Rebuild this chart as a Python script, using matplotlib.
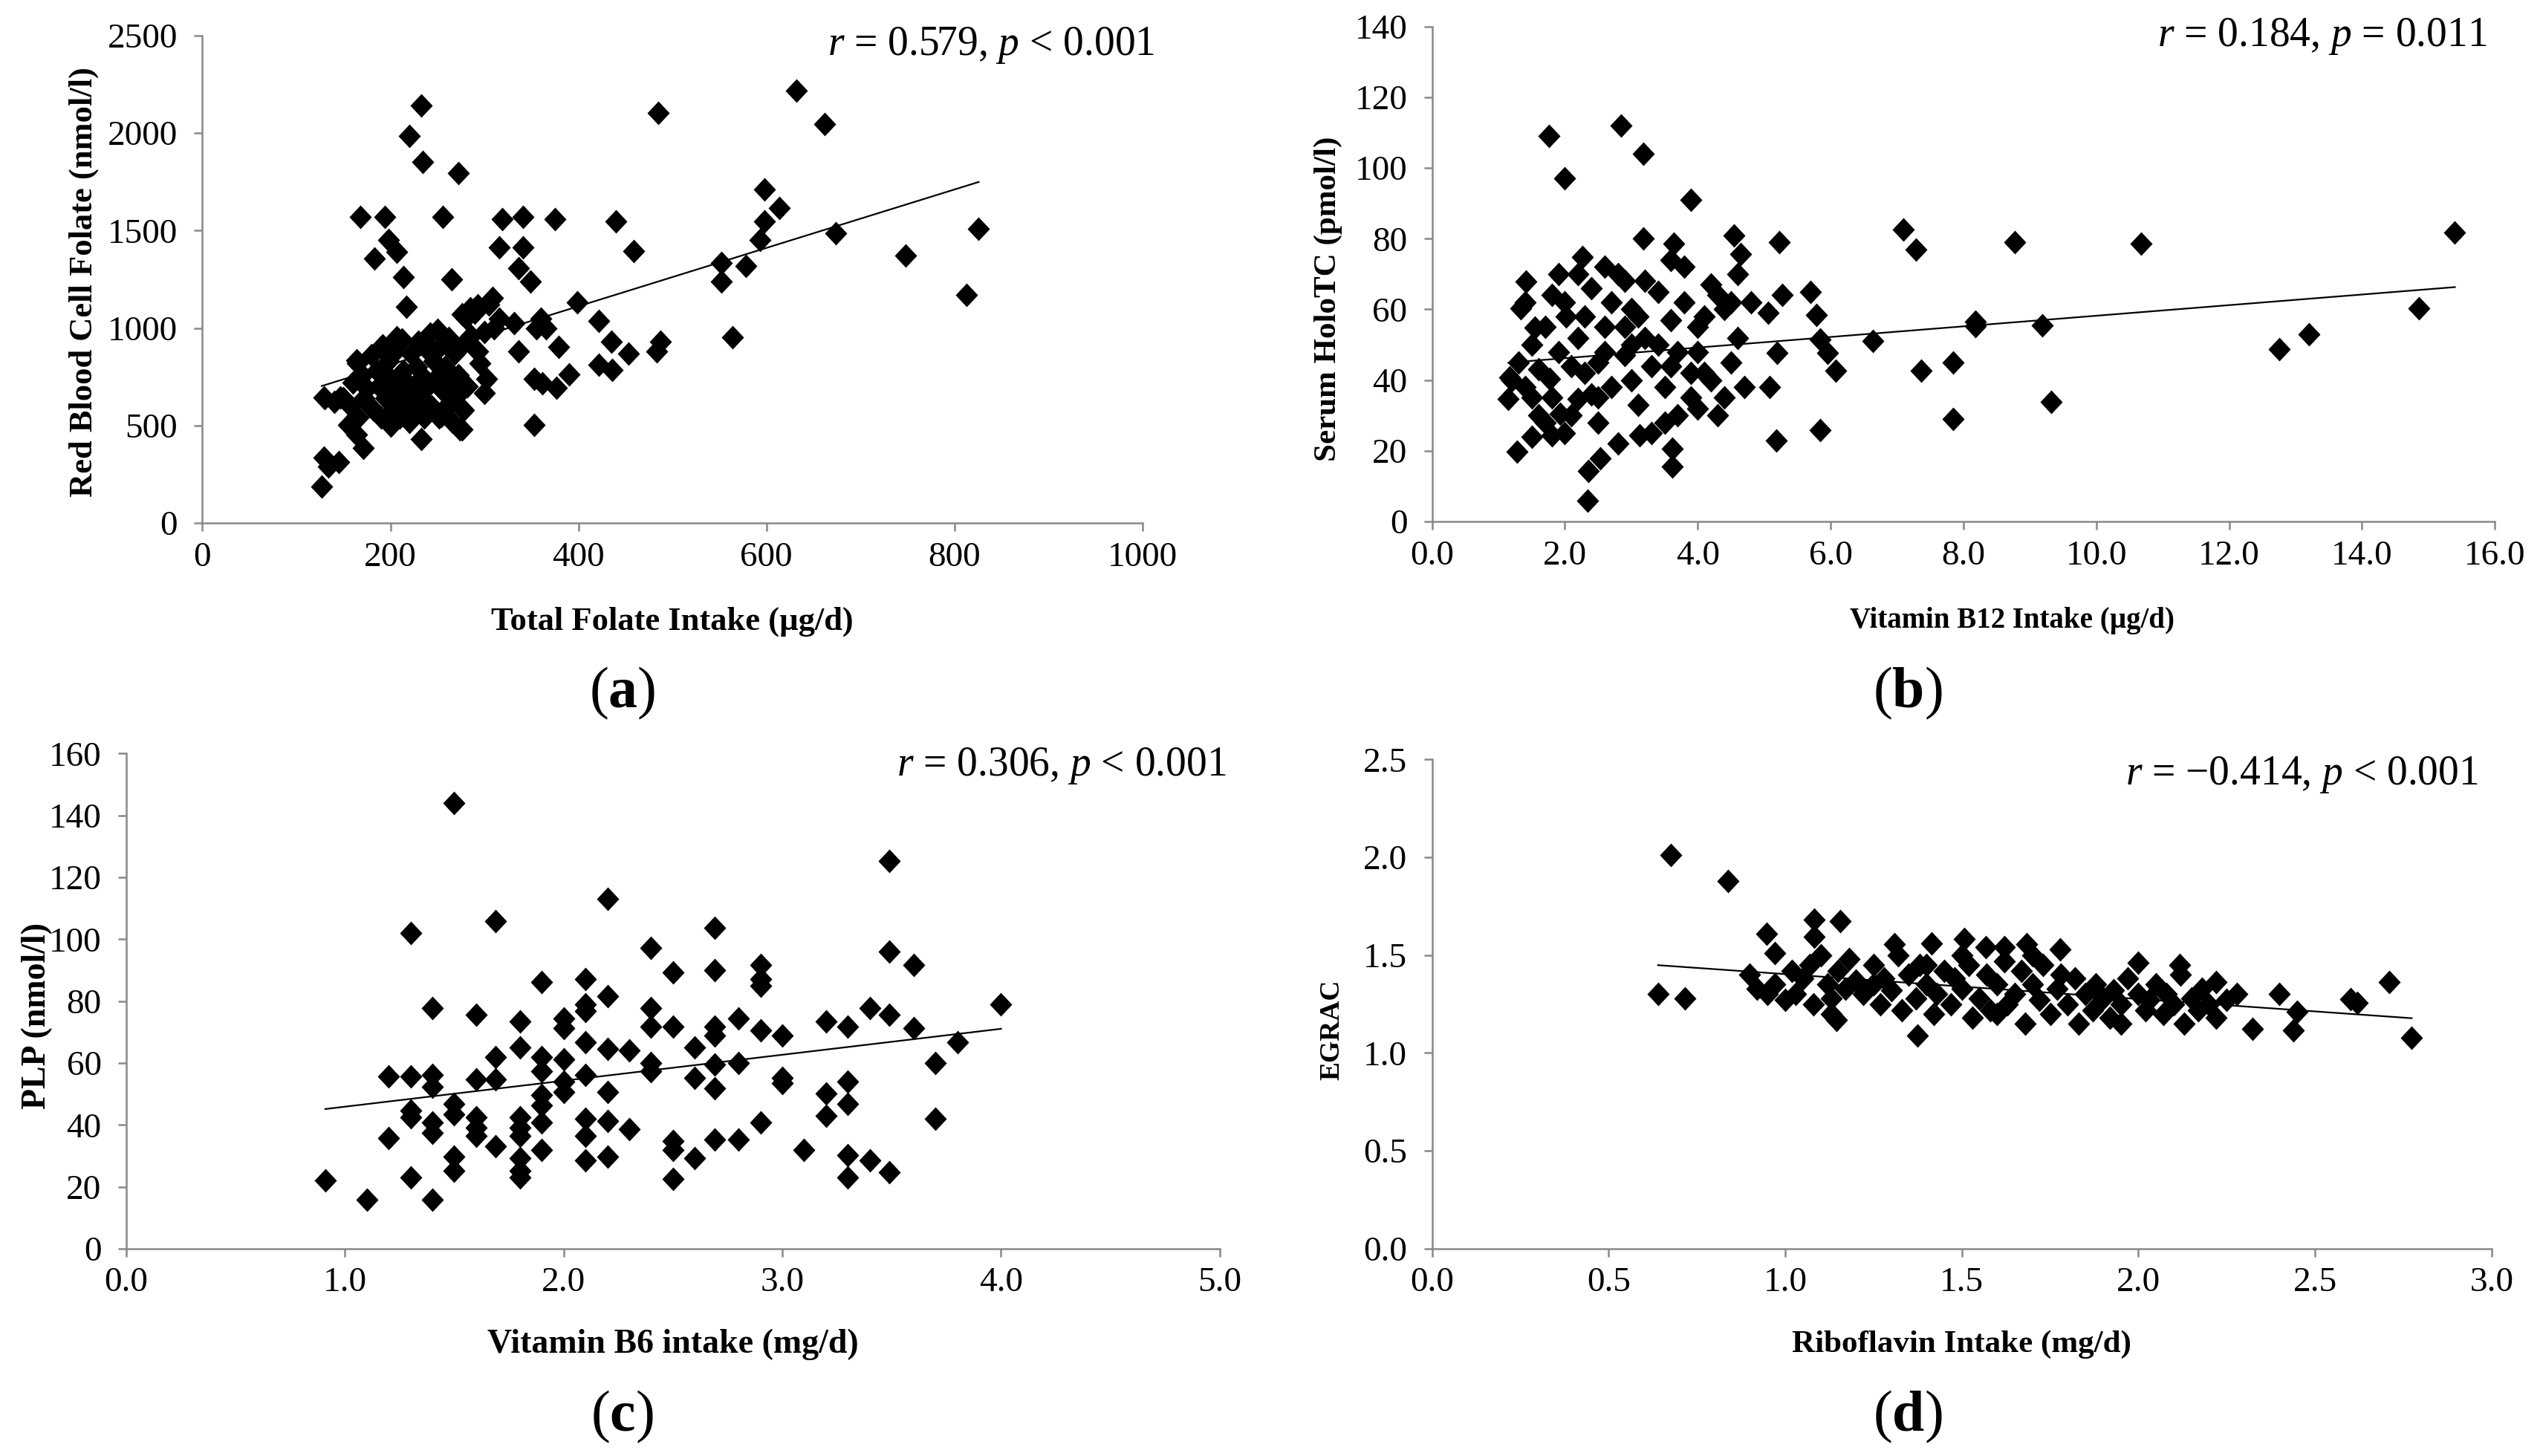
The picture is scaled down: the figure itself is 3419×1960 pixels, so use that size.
import numpy as np
import matplotlib
matplotlib.use("Agg")
import matplotlib.pyplot as plt
from matplotlib.path import Path

plt.rcParams['font.family'] = ['Liberation Serif', 'DejaVu Serif']
plt.rcParams['mathtext.fontset'] = 'custom'
plt.rcParams['mathtext.rm'] = 'Liberation Serif'
plt.rcParams['mathtext.it'] = 'Liberation Serif:italic'
plt.rcParams['mathtext.bf'] = 'Liberation Serif:bold'

# ---------------- Panel (a) data ----------------
folate_x = [233, 220, 234, 272, 485, 632, 662, 598, 614, 598, 593, 674, 826, 748, 813, 552, 552, 578, 564,
            440, 459, 399, 422, 435, 453, 422, 436, 483, 487, 390, 375, 341, 319, 316, 341, 336, 349, 309,
            316, 379, 377, 353, 353, 362, 336, 355, 360, 366, 332, 302, 300, 293, 276, 285, 293, 256, 265,
            168, 194, 198, 207, 183, 214, 217, 207, 190, 164, 129, 147, 155, 164, 171, 145, 129, 134, 127,
            233, 276, 254,
            160, 165, 170, 175, 178, 180, 185, 188, 190, 192, 195, 198, 200, 200, 203, 205, 207, 210, 212,
            214, 216, 218, 220, 222, 224, 226, 228, 230, 232, 234, 236, 238, 240, 242, 244, 246, 248, 250,
            252, 254, 256, 258, 260, 262, 264, 266, 268, 270, 272, 274, 276, 278, 280, 282, 286, 290, 295,
            300, 305, 310, 172, 158, 166, 182, 196, 212, 228, 244, 260, 150, 140, 130]
rbc_folate = [2142, 1983, 1853, 1794, 2102, 2216, 2047, 1711, 1616, 1545, 1450, 1486, 1509, 1372, 1171, 1332,
              1237, 1320, 953, 1545, 1396, 1130, 1036, 929, 870, 810, 787, 880, 929, 763, 1557, 1569, 1557,
              1415, 1415, 1308, 1237, 1154, 1047, 905, 692, 502, 739, 716, 882, 1000, 1047, 1000, 1024, 739,
              668, 882, 1071, 1100, 1118, 1569, 1249, 1569, 1569, 1450, 1391, 1355, 1260, 1107, 953, 905,
              834, 645, 645, 502, 455, 384, 313, 336, 289, 187, 431, 479, 550,
              720, 820, 760, 690, 600, 860, 780, 700, 540, 910, 640, 830, 500, 740, 580, 880, 680, 540, 940,
              780, 620, 720, 520, 870, 690, 580, 800, 930, 650, 750, 540, 890, 700, 970, 600, 830, 740, 990,
              540, 910, 680, 800, 600, 950, 720, 520, 870, 650, 760, 480, 910, 580, 1050, 700, 960, 1080, 820,
              980, 1120, 1000, 640, 600, 540, 580, 760, 700, 600, 880, 760, 640, 620, 640]

# ---------------- Panel (b) data ----------------
b12_x = [1.76, 2.84, 3.18, 2.0, 3.9, 7.09, 7.28, 8.77, 10.68, 15.4, 14.86, 13.2, 12.75, 9.19, 8.18, 8.18,
         6.64, 7.36, 7.85, 7.85, 9.32, 6.08, 5.84, 5.18, 5.08, 5.79, 5.7, 5.23, 5.27, 5.06, 5.19, 5.84, 5.95,
         4.54, 4.65, 3.64, 3.6, 3.18, 2.26, 1.41, 1.8, 1.33, 1.55, 2.02, 1.17, 1.15, 1.28, 1.5, 1.8, 2.35,
         2.34, 2.53, 3.62, 3.62, 3.13, 2.2, 1.93, 1.77,
         1.2, 1.3, 1.4, 1.5, 1.6, 1.7, 1.8, 1.9, 2.0, 2.1, 2.2, 2.3, 2.4, 2.5, 2.6, 2.7, 2.8, 2.9, 3.0, 3.1,
         3.2, 3.3, 3.4, 3.5, 3.6, 3.7, 3.8, 3.9, 4.0, 4.1, 4.2, 4.3, 4.4, 4.5, 4.6, 4.7, 4.8, 2.0, 2.5, 3.0,
         3.5, 4.0, 4.5, 2.2, 2.7, 3.2, 2.8, 3.3, 1.6, 1.4, 1.9, 2.4, 2.9, 3.4, 3.9, 4.4, 2.6, 3.1, 3.6, 4.1,
         4.3, 2.3, 2.1, 1.7, 2.6, 3.7, 4.2, 4.6, 3.8, 2.9, 2.5, 3.0, 4.0, 1.5]
holotc = [109, 112, 104, 97, 91, 82.5, 77, 79, 78.5, 81.8, 60.4, 52.9, 48.7, 55.4, 56.6, 55.2, 51, 42.6, 45,
          29.1, 33.8, 42.6, 25.8, 23, 38, 58.5, 65, 79, 64, 59, 47.8, 51.5, 47.8, 80.9, 75.7, 78.5, 73.9, 80,
          74.8, 67.8, 64, 60.4, 54.8, 58, 40.8, 34.7, 19.8, 24, 24.4, 14.2, 5.8, 17.9, 15.6, 20.7, 24.4,
          34.7, 30.5, 40.3,
          40, 45, 38, 50, 43, 55, 35, 48, 62, 30, 52, 42, 66, 28, 55, 38, 70, 47, 60, 33, 52, 44, 65, 38, 57,
          48, 62, 35, 55, 42, 67, 30, 60, 45, 52, 38, 62, 25, 45, 40, 28, 32, 62, 70, 62, 68, 22, 25, 30, 62,
          70, 36, 55, 50, 42, 35, 48, 58, 44, 58, 64, 58, 44, 28, 72, 30, 40, 70, 72, 68, 35, 50, 48, 35]

# ---------------- Panel (c) data ----------------
b6_x = [1.5, 3.49, 2.2, 1.69, 1.3, 2.69, 2.4, 3.49, 3.6, 2.5, 2.69, 2.9, 2.9, 2.9, 1.9, 2.1, 2.2, 2.1, 2.1,
        4.0, 1.4, 1.6, 2.4, 2.4, 1.8, 2.0, 2.0, 3.4, 3.49, 3.2, 3.3, 2.8, 2.5, 2.69, 2.69, 2.9, 3.0, 3.6, 3.8,
        2.6, 2.3, 2.2, 2.1, 1.8, 1.69, 1.9, 2.0, 2.4, 2.8, 2.69, 3.7, 1.2, 1.3, 1.4, 1.4, 1.6, 1.69, 1.9, 2.0,
        2.1, 2.2, 2.6, 2.69, 2.4, 3.0, 3.0, 3.3, 3.2, 1.9, 1.9, 2.0, 1.3, 1.3, 1.5, 1.5, 1.6, 3.3, 3.2, 3.7,
        1.4, 1.4, 1.6, 1.8, 1.8, 1.9, 2.1, 2.2, 2.3, 2.9, 1.2, 1.6, 1.69, 1.8, 1.9, 2.1, 2.5, 2.5, 2.69, 2.8,
        3.1, 1.8, 1.5, 1.5, 2.1, 2.2, 2.6, 3.3, 3.4, 1.8, 1.8, 1.3, 2.5, 3.3, 3.49, 0.91, 1.1, 1.4]
plp = [144, 125.3, 113, 105.9, 101.9, 103.8, 97.1, 96, 91.6, 89.4, 90, 91.6, 87.2, 85, 86.1, 87.2, 81.7,
       78.9, 76.7, 78.9, 77.8, 75.6, 77.8, 71.7, 73.4, 74.5, 71.2, 77.8, 75.6, 73.4, 71.7, 74.5, 71.7, 71.7,
       69, 70.6, 69, 71.2, 66.7, 65.1, 64, 64.5, 66.7, 65, 61.8, 61.8, 61.2, 60, 60, 59.6, 60, 55.7, 55.7,
       56.2, 52.4, 54.6, 54.6, 57.3, 54, 56.2, 50.7, 55.1, 51.8, 57.3, 55.1, 53.5, 54, 50.2, 49.6, 46.3, 50.7,
       44.6, 42.4, 46.9, 43.5, 42.4, 46.9, 43, 41.9, 40.8, 37.5, 39.1, 42.4, 39.1, 40.8, 41.9, 41.3, 38.6,
       40.8, 35.8, 36.4, 33, 36.4, 31.9, 36.4, 34.7, 31.9, 35.3, 35.3, 31.9, 29.2, 29.7, 25.3, 28.6, 29.7,
       29.2, 30.3, 28.6, 25.3, 23.1, 23.1, 22.5, 23.1, 24.8, 22, 15.9, 15.9]

# ---------------- Panel (d) data ----------------
ribo_x = [0.676, 0.837, 0.64, 0.715, 0.947, 0.97, 1.083, 1.083, 1.155, 1.31, 1.415, 1.507, 1.568, 1.62, 1.684,
          1.778, 2.0, 2.118, 2.22, 2.4, 2.324, 2.44, 2.45, 2.6, 2.62, 2.71, 2.774, 1.375, 1.145,
          0.90, 0.92, 0.95, 0.97, 1.00, 1.02, 1.03, 1.05, 1.07, 1.08, 1.10, 1.12, 1.13, 1.15, 1.17, 1.18,
          1.20, 1.22, 1.25, 1.27, 1.28, 1.30, 1.32, 1.33, 1.35, 1.37, 1.38, 1.40, 1.42, 1.43, 1.45, 1.47,
          1.48, 1.50, 1.52, 1.53, 1.55, 1.57, 1.58, 1.60, 1.62, 1.63, 1.65, 1.67, 1.68, 1.70, 1.72, 1.73,
          1.75, 1.77, 1.78, 1.80, 1.82, 1.83, 1.85, 1.87, 1.88, 1.90, 1.92, 1.93, 1.95, 1.97, 2.00, 2.02,
          2.03, 2.05, 2.07, 2.08, 2.10, 2.12, 2.13, 2.15, 2.17, 2.18, 2.20, 2.22, 2.25, 2.28, 1.13, 1.60,
          1.40, 1.95, 1.50, 1.25, 1.70]
egrac = [2.01, 1.88, 1.30, 1.278, 1.61, 1.51, 1.68, 1.593, 1.673, 1.557, 1.56, 1.584, 1.54, 1.54, 1.557,
         1.531, 1.46, 1.451, 1.363, 1.30, 1.124, 1.115, 1.212, 1.274, 1.257, 1.363, 1.076, 1.088, 1.168,
         1.40, 1.33, 1.30, 1.35, 1.27, 1.42, 1.30, 1.38, 1.45, 1.25, 1.50, 1.35, 1.28, 1.42, 1.33, 1.48,
         1.37, 1.30, 1.45, 1.25, 1.38, 1.32, 1.50, 1.22, 1.40, 1.28, 1.45, 1.35, 1.20, 1.30, 1.42, 1.25,
         1.38, 1.33, 1.45, 1.18, 1.28, 1.40, 1.22, 1.35, 1.47, 1.25, 1.30, 1.42, 1.15, 1.35, 1.27, 1.45,
         1.20, 1.33, 1.40, 1.25, 1.38, 1.15, 1.30, 1.22, 1.35, 1.28, 1.18, 1.32, 1.25, 1.38, 1.30, 1.22,
         1.27, 1.35, 1.20, 1.30, 1.25, 1.40, 1.15, 1.28, 1.22, 1.33, 1.25, 1.18, 1.27, 1.30, 1.20, 1.20,
         1.45, 1.15, 1.50, 1.35, 1.50]

# trend lines (slope, intercept)
trend_a = (1.496, 513.0)
trend_b = (1.5, 43.2)
trend_c = (8.39, 37.5)
trend_d = (-0.127, 1.53)

# axis ticks
xt_a = [0, 200, 400, 600, 800, 1000]; xl_a = ["0", "200", "400", "600", "800", "1000"]
yt_a = [0, 500, 1000, 1500, 2000, 2500]; yl_a = ["0", "500", "1000", "1500", "2000", "2500"]
xt_b = [0, 2, 4, 6, 8, 10, 12, 14, 16]; xl_b = ["0.0", "2.0", "4.0", "6.0", "8.0", "10.0", "12.0", "14.0", "16.0"]
yt_b = [0, 20, 40, 60, 80, 100, 120, 140]; yl_b = ["0", "20", "40", "60", "80", "100", "120", "140"]
xt_c = [0, 1, 2, 3, 4, 5]; xl_c = ["0.0", "1.0", "2.0", "3.0", "4.0", "5.0"]
yt_c = [0, 20, 40, 60, 80, 100, 120, 140, 160]; yl_c = ["0", "20", "40", "60", "80", "100", "120", "140", "160"]
xt_d = [0, 0.5, 1.0, 1.5, 2.0, 2.5, 3.0]; xl_d = ["0.0", "0.5", "1.0", "1.5", "2.0", "2.5", "3.0"]
yt_d = [0, 0.5, 1.0, 1.5, 2.0, 2.5]; yl_d = ["0.0", "0.5", "1.0", "1.5", "2.0", "2.5"]

xlabels = ["Total Folate Intake (µg/d)", "Vitamin B12 Intake (µg/d)",
           "Vitamin B6 intake (mg/d)", "Riboflavin Intake (mg/d)"]
ylabels = ["Red Blood Cell Folate (nmol/l)", "Serum HoloTC (pmol/l)", "PLP (nmol/l)", "EGRAC"]
stats = [r"$\it{r}$ = 0.579, $\it{p}$ < 0.001", r"$\it{r}$ = 0.184, $\it{p}$ = 0.011",
         r"$\it{r}$ = 0.306, $\it{p}$ < 0.001", r"$\it{r}$ = −0.414, $\it{p}$ < 0.001"]
panel_labels = [r"($\mathbf{a}$)", r"($\mathbf{b}$)", r"($\mathbf{c}$)", r"($\mathbf{d}$)"]

# ---------------- Figure ----------------
fig = plt.figure(figsize=(34.19, 19.60), dpi=100)

diamond = Path([(0, 1), (0.94, 0), (0, -1), (-0.94, 0), (0, 1)],
               [Path.MOVETO, Path.LINETO, Path.LINETO, Path.LINETO, Path.CLOSEPOLY])

specs = [
    dict(rect=[0.0797, 0.6407, 0.370, 0.335], x=folate_x, y=rbc_folate, tr=trend_a,
         xt=xt_a, xl=xl_a, yt=yt_a, yl=yl_a, xlab=(0.5, -0.2025), ylab=(-0.126, 0.495),
         xfs=32, yfs=32, stat=(0.4547, 0.969), plab=(0.245, 0.524)),
    dict(rect=[0.5638, 0.6418, 0.4184, 0.340], x=b12_x, y=holotc, tr=trend_b,
         xt=xt_b, xl=xl_b, yt=yt_b, yl=yl_b, xlab=(0.546, -0.2), ylab=(-0.098, 0.45),
         xfs=28, yfs=31, stat=(0.979, 0.975), plab=(0.751, 0.524)),
    dict(rect=[0.0497, 0.1424, 0.4305, 0.340], x=b6_x, y=plp, tr=trend_c,
         xt=xt_c, xl=xl_c, yt=yt_c, yl=yl_c, xlab=(0.5, -0.194), ylab=(-0.0815, 0.47),
         xfs=33, yfs=33, stat=(0.4828, 0.474), plab=(0.245, 0.027)),
    dict(rect=[0.5638, 0.1424, 0.4171, 0.336], x=ribo_x, y=egrac, tr=trend_d,
         xt=xt_d, xl=xl_d, yt=yt_d, yl=yl_d, xlab=(0.5, -0.196), ylab=(-0.0947, 0.447),
         xfs=31, yfs=27, stat=(0.9758, 0.468), plab=(0.751, 0.027)),
]

spine_col = "#888888"
for i, s in enumerate(specs):
    ax = fig.add_axes(s["rect"])
    x = np.array(s["x"], dtype=float)
    y = np.array(s["y"], dtype=float)
    ax.plot(x, y, linestyle="none", marker=diamond, markersize=23, color="black",
            markeredgewidth=0, clip_on=False, zorder=3)
    xx = np.array([x.min(), x.max()])
    ax.plot(xx, s["tr"][0] * xx + s["tr"][1], color="black", linewidth=1.6, zorder=4)
    ax.set_xlim(s["xt"][0], s["xt"][-1])
    ax.set_ylim(s["yt"][0], s["yt"][-1])
    ax.set_xticks(s["xt"])
    ax.set_xticklabels(s["xl"])
    ax.set_yticks(s["yt"])
    ax.set_yticklabels(s["yl"])
    for side in ["top", "right"]:
        ax.spines[side].set_visible(False)
    for side in ["left", "bottom"]:
        ax.spines[side].set_color(spine_col)
        ax.spines[side].set_linewidth(1.8)
    ax.tick_params(axis="both", direction="out", length=8, width=1.8, color=spine_col,
                   labelsize=34, labelcolor="black")
    ax.tick_params(axis="x", pad=10)
    ax.tick_params(axis="y", pad=16)
    ax.set_xlabel(xlabels[i], fontsize=s["xfs"], fontweight="bold")
    ax.xaxis.label.set_va("center")
    ax.xaxis.set_label_coords(*s["xlab"])
    ax.set_ylabel(ylabels[i], fontsize=s["yfs"], fontweight="bold")
    ax.yaxis.label.set_va("center")
    ax.yaxis.set_label_coords(*s["ylab"])
    fig.text(s["stat"][0], s["stat"][1], stats[i], ha="right", va="center", fontsize=40)
    fig.text(s["plab"][0], s["plab"][1], panel_labels[i], ha="center", va="center", fontsize=56)

fig.savefig("out.png", dpi=100, facecolor="white")
